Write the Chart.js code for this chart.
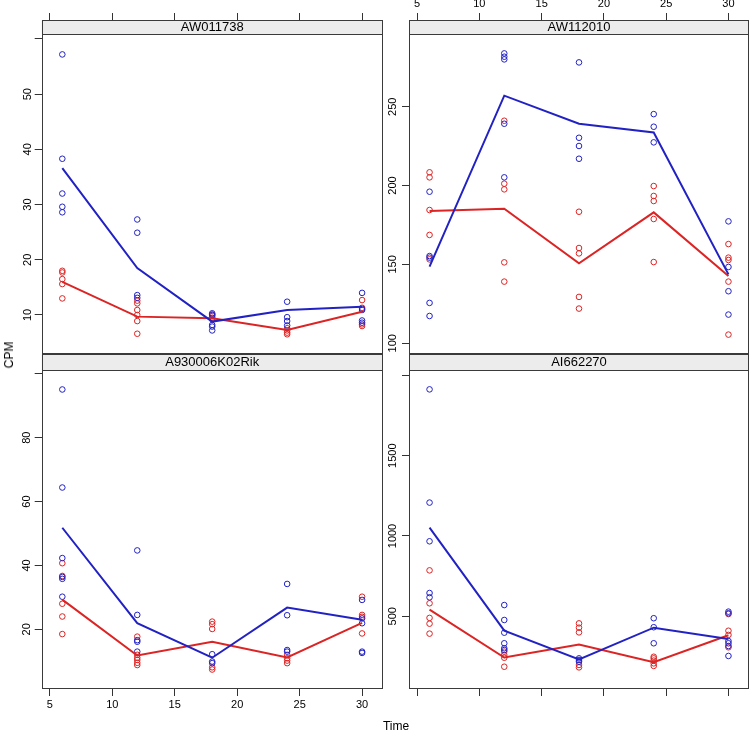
<!DOCTYPE html>
<html>
<head>
<meta charset="utf-8">
<script src="https://cdn.jsdelivr.net/npm/chart.js@4.4.1/dist/chart.umd.min.js"></script>
<style>
  html, body { margin: 0; padding: 0; background: #fff; overflow: hidden; }
  #fig { position: relative; width: 750px; height: 731px; overflow: hidden; }
  #fig canvas { position: absolute; left: 0; top: 0; }
  .lab { position: absolute; font-family: "Liberation Sans", Arial, sans-serif; font-size: 12px; color: #000; white-space: nowrap; }
  #ylab { left: 9px; top: 355px; transform: translate(-50%, -50%) rotate(-90deg); }
  #xlab { left: 396px; top: 726px; transform: translate(-50%, -50%); }
</style>
</head>
<body>
<div id="fig">
  <canvas id="p1" width="760" height="731"></canvas>
  <canvas id="p2" width="760" height="731"></canvas>
  <canvas id="p3" width="760" height="731"></canvas>
  <canvas id="p4" width="760" height="731"></canvas>
  <div class="lab" id="ylab">CPM</div>
  <div class="lab" id="xlab">Time</div>
</div>
<script>
// Tiempos de muestreo y marcas del eje x
const tiempos = [6, 12, 18, 24, 30];
const ticksX = [5, 10, 15, 20, 25, 30];

// AW011738 (una lista de valores por tiempo)
const aw011738Azul = [[57.2, 38.3, 32.0, 29.6, 28.6], [27.3, 24.9, 13.6, 13.1], [10.3, 10.0, 8.2, 7.9, 7.2], [12.4, 9.6, 8.9, 8.1], [14.0, 11.1, 10.9, 9.0, 8.6]];
const aw011738Rojo = [[18.0, 17.7, 16.5, 15.6, 13.0], [12.6, 12.1, 10.9, 10.0, 8.9, 6.6], [10.1, 9.8, 9.5, 9.2], [7.6, 7.2, 6.8, 6.5], [12.7, 11.3, 8.3, 8.0]];
const aw011738LineaAzul = [36.6, 18.5, 8.8, 10.9, 11.5];
const aw011738LineaRoja = [16.0, 9.7, 9.4, 7.3, 10.6];
const aw011738TicksY = [10, 20, 30, 40, 50, 60];
const aw011738Etiquetas = ["10", "20", "30", "40", "50", ""];

// AW112010
const aw112010Azul = [[196.1, 155.3, 154.3, 125.6, 117.3], [283.8, 281.7, 280.0, 239.2, 205.2], [278.1, 230.3, 225.1, 217.0], [245.3, 237.3, 227.4], [177.3, 148.4, 133.0, 118.2]];
const aw112010Rojo = [[208.4, 205.2, 184.5, 168.7, 153.2], [241.1, 201.2, 197.6, 151.3, 139.1], [183.4, 160.4, 157.0, 129.4, 122.0], [199.7, 193.4, 190.2, 178.8, 151.5], [162.9, 154.3, 152.8, 139.1, 105.5]];
const aw112010LineaAzul = [148.6, 257.0, 239.2, 233.7, 143.7];
const aw112010LineaRoja = [183.9, 185.3, 150.7, 183.0, 142.7];
const aw112010TicksY = [100, 150, 200, 250];
const aw112010Etiquetas = ["100", "150", "200", "250"];

// A930006K02Rik
const a930Azul = [[95.1, 64.4, 42.3, 36.4, 35.8, 30.2], [44.7, 24.5, 16.6, 16.1, 13.0], [12.2, 9.9, 9.4], [34.2, 24.4, 13.5, 13.0], [29.2, 23.4, 21.9, 13.0, 12.6]];
const a930Rojo = [[40.7, 36.7, 28.0, 24.0, 18.5], [17.7, 12.0, 11.1, 10.4, 9.5, 8.8], [22.4, 21.6, 20.1, 8.1, 7.4], [12.0, 10.9, 10.2, 9.4], [30.2, 24.5, 23.9, 18.7]];
const a930LineaAzul = [51.8, 21.9, 11.1, 26.8, 23.0];
const a930LineaRoja = [29.3, 11.8, 16.1, 11.2, 22.0];
const a930TicksY = [20, 40, 60, 80, 100];
const a930Etiquetas = ["20", "40", "60", "80", ""];

// AI662270
const ai662270Azul = [[1913, 1208, 967, 645, 618], [570, 477, 398, 332, 301, 290], [238, 228, 217], [488, 432, 332], [529, 519, 346, 332, 315, 253]];
const ai662270Rojo = [[786, 581, 490, 454, 392], [280, 259, 242, 186], [456, 429, 400, 197, 182], [248, 238, 224, 207, 191], [514, 410, 384, 307]];
const ai662270LineaAzul = [1052, 411, 232, 429, 359];
const ai662270LineaRoja = [542, 243, 324, 214, 382];
const ai662270TicksY = [500, 1000, 1500, 2000];
const ai662270Etiquetas = ["500", "1000", "1500", ""];

const AZUL = "#2222c4";
const ROJO = "#dc2424";
const FUENTE = '"Liberation Sans", Arial, Helvetica, sans-serif';

const puntos = (grupos) => {
  const out = [];
  grupos.forEach((vals, i) => vals.forEach((v) => out.push({ x: tiempos[i], y: v })));
  return out;
};
const linea = (vals) => vals.map((v, i) => ({ x: tiempos[i], y: v }));

// Tira gris con el nombre del gen y borde del panel
const tiraPlugin = {
  id: "tira",
  beforeDraw(chart) {
    const t = chart.titleBlock;
    const ctx = chart.ctx;
    ctx.save();
    ctx.fillStyle = "#ececec";
    ctx.fillRect(t.left, t.top, t.width, t.height);
    ctx.restore();
  },
  afterDraw(chart) {
    const t = chart.titleBlock;
    const a = chart.chartArea;
    const ctx = chart.ctx;
    const l = Math.round(a.left) + 0.5, r = Math.round(a.right) - 0.5;
    const top = Math.round(t.top) + 0.5, mid = Math.round(a.top) + 0.5, bot = Math.round(a.bottom) - 0.5;
    ctx.save();
    ctx.strokeStyle = "#3a3a3a";
    ctx.lineWidth = 1;
    ctx.strokeRect(l, top, r - l, bot - top);
    ctx.beginPath();
    ctx.moveTo(l, mid);
    ctx.lineTo(r, mid);
    ctx.stroke();
    ctx.restore();
  },
};

const panel = (id, c) => {
  new Chart(document.getElementById(id), {
    type: "scatter",
    data: {
      datasets: [
        { data: linea(c.lineaAzul), showLine: true, borderColor: AZUL, borderWidth: 2, pointRadius: 0, fill: false },
        { data: linea(c.lineaRoja), showLine: true, borderColor: ROJO, borderWidth: 2, pointRadius: 0, fill: false },
        { data: puntos(c.azul), borderColor: AZUL, backgroundColor: "rgba(0,0,0,0)", pointRadius: 2.8, borderWidth: 1 },
        { data: puntos(c.rojo), borderColor: ROJO, backgroundColor: "rgba(0,0,0,0)", pointRadius: 2.8, borderWidth: 1 },
      ],
    },
    options: {
      responsive: false,
      animation: false,
      events: [],
      layout: { padding: c.padding },
      plugins: {
        legend: { display: false },
        tooltip: { enabled: false },
        title: {
          display: true,
          text: c.titulo,
          position: "top",
          fullSize: false,
          weight: 1,
          padding: 0,
          color: "#000",
          font: { family: FUENTE, size: 13, weight: "normal", lineHeight: c.altoTira + "px" },
        },
      },
      scales: {
        x: {
          type: "linear",
          position: c.posX,
          weight: 10,
          min: 4.35,
          max: 31.65,
          afterBuildTicks: (s) => { s.ticks = ticksX.map((v) => ({ value: v })); },
          afterFit: (s) => { s.height = c.altoX; },
          grid: { display: true, drawOnChartArea: false, drawTicks: true, tickLength: 7, color: "#333" },
          border: { display: false },
          ticks: { display: c.etiquetasX, padding: 2, color: "#000", autoSkip: false, maxRotation: 0, font: { family: FUENTE, size: 11 } },
        },
        y: {
          type: "linear",
          position: "left",
          min: c.min,
          max: c.max,
          afterBuildTicks: (s) => { s.ticks = c.ticksY.map((v) => ({ value: v })); },
          afterFit: (s) => { s.width = 30; },
          grid: { display: true, drawOnChartArea: false, drawTicks: true, tickLength: 7, color: "#333" },
          border: { display: false },
          ticks: {
            padding: c.padY,
            crossAlign: "center",
            minRotation: 90,
            maxRotation: 90,
            autoSkip: false,
            color: "#000",
            font: { family: FUENTE, size: 11 },
            callback: (v, i) => c.etiquetasY[i],
          },
        },
      },
    },
    plugins: [tiraPlugin],
  });
};

// el lienzo mide 760 de ancho; lo que pasa de 750 queda fuera de la ventana
panel("p1", {
  titulo: "AW011738", azul: aw011738Azul, rojo: aw011738Rojo,
  lineaAzul: aw011738LineaAzul, lineaRoja: aw011738LineaRoja,
  ticksY: aw011738TicksY, etiquetasY: aw011738Etiquetas, min: 2.93, max: 60.9,
  posX: "top", etiquetasX: false, altoX: 7, altoTira: 14, padY: 0.3,
  padding: { left: 11.7, right: 377.3, top: 13, bottom: 377 },
});
panel("p2", {
  titulo: "AW112010", azul: aw112010Azul, rojo: aw112010Rojo,
  lineaAzul: aw112010LineaAzul, lineaRoja: aw112010LineaRoja,
  ticksY: aw112010TicksY, etiquetasY: aw112010Etiquetas, min: 93.2, max: 296.1,
  posX: "top", etiquetasX: true, altoX: 20, altoTira: 14, padY: -0.2,
  padding: { left: 379, right: 11, top: 0, bottom: 377 },
});
panel("p3", {
  titulo: "A930006K02Rik", azul: a930Azul, rojo: a930Rojo,
  lineaAzul: a930LineaAzul, lineaRoja: a930LineaRoja,
  ticksY: a930TicksY, etiquetasY: a930Etiquetas, min: 1.3, max: 101.2,
  posX: "bottom", etiquetasX: true, altoX: 22, altoTira: 16, padY: 1.3,
  padding: { left: 11.7, right: 377.3, top: 354, bottom: 20 },
});
panel("p4", {
  titulo: "AI662270", azul: ai662270Azul, rojo: ai662270Rojo,
  lineaAzul: ai662270LineaAzul, lineaRoja: ai662270LineaRoja,
  ticksY: ai662270TicksY, etiquetasY: ai662270Etiquetas, min: 47.3, max: 2033.6,
  posX: "bottom", etiquetasX: false, altoX: 7, altoTira: 16, padY: -3.5,
  padding: { left: 379, right: 11, top: 354, bottom: 35 },
});
</script>
</body>
</html>
